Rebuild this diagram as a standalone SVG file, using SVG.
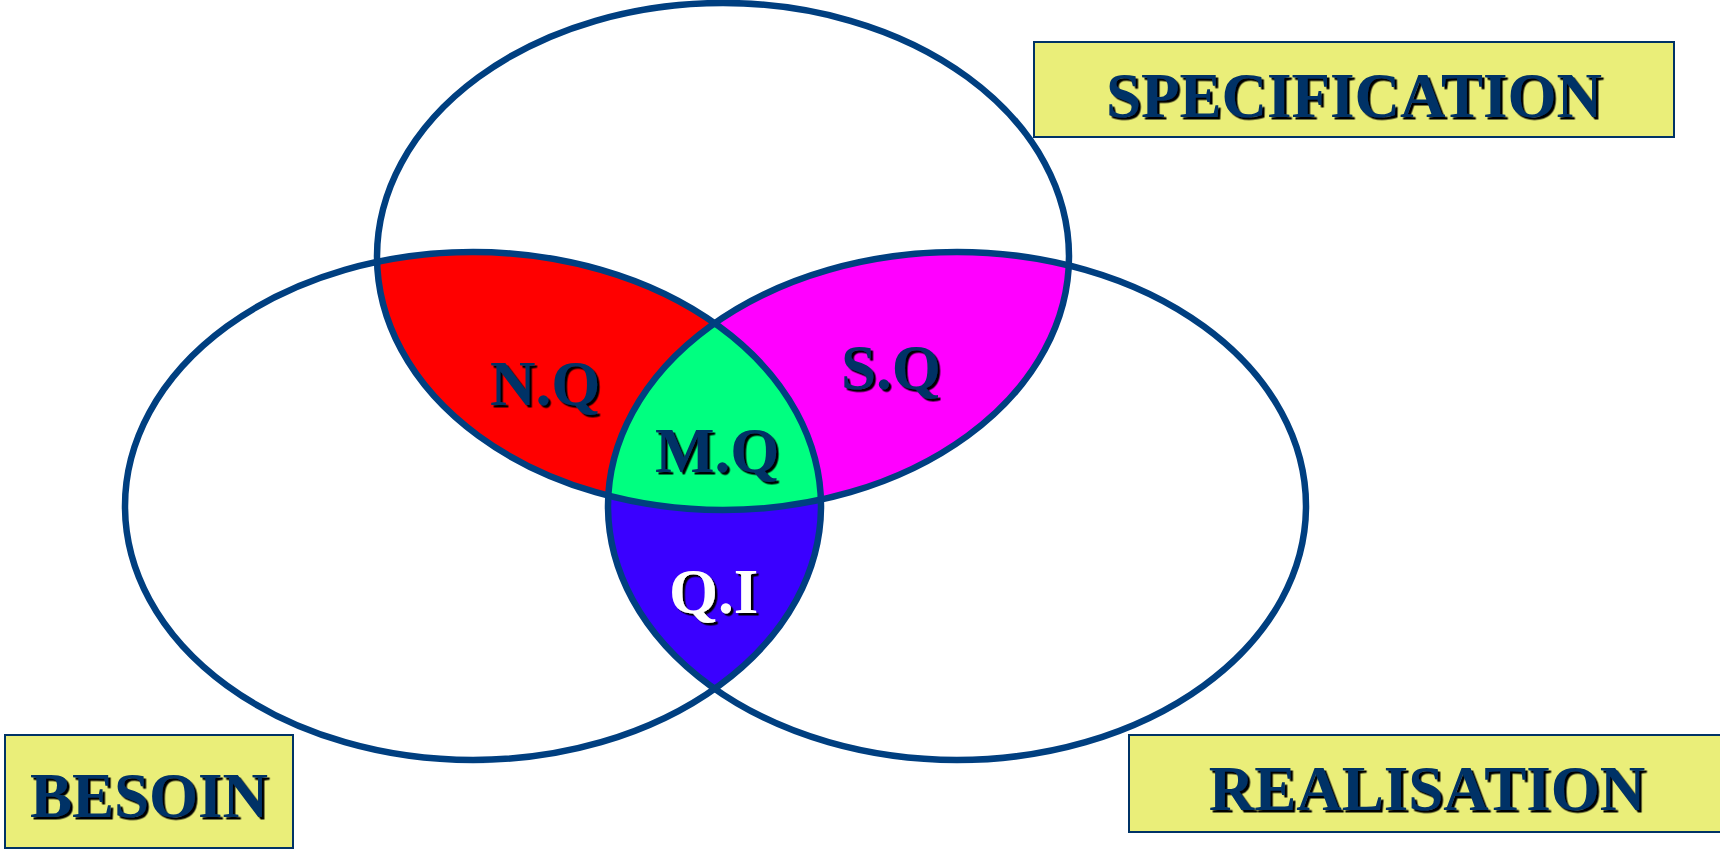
<svg xmlns="http://www.w3.org/2000/svg" width="1720" height="851" viewBox="0 0 1720 851">
  <style>
    .ring { fill: none; stroke: #003F80; stroke-width: 6.5; }
    .box { fill: #EAEE79; stroke: #003366; stroke-width: 2; }
    .lbl { font-family: "Liberation Serif", "Times New Roman", serif; font-weight: bold; font-size: 63px; fill: #003366; filter: url(#shadow); }
    .lbl-light { fill: #FFFFFF; }
  </style>
  <defs>
    <filter id="shadow" x="-10%" y="-20%" width="130%" height="150%">
      <feDropShadow dx="2.5" dy="2.5" stdDeviation="0.4" flood-color="#000000" flood-opacity="1"/>
    </filter>
    <ellipse id="e-top" cx="723" cy="256.5" rx="346" ry="253.5"/>
    <ellipse id="e-left" cx="473" cy="506" rx="348" ry="254"/>
    <ellipse id="e-right" cx="957" cy="506" rx="349" ry="254"/>
    <clipPath id="clip-top"><use href="#e-top"/></clipPath>
    <clipPath id="clip-left"><use href="#e-left"/></clipPath>
  </defs>

  <rect width="1720" height="851" fill="#FFFFFF"/>

  <!-- overlap zones of the three sets -->
  <g id="zone-qi">
    <use href="#e-right" fill="#3A00FF" clip-path="url(#clip-left)"/>
  </g>
  <g id="zone-nq">
    <use href="#e-left" fill="#FF0000" clip-path="url(#clip-top)"/>
  </g>
  <g id="zone-sq">
    <use href="#e-right" fill="#FF00FF" clip-path="url(#clip-top)"/>
  </g>
  <g id="zone-mq">
    <g clip-path="url(#clip-top)">
      <use href="#e-right" fill="#00FF80" clip-path="url(#clip-left)"/>
    </g>
  </g>

  <!-- set outlines -->
  <g id="set-specification"><use href="#e-top" class="ring"/></g>
  <g id="set-besoin"><use href="#e-left" class="ring"/></g>
  <g id="set-realisation"><use href="#e-right" class="ring"/></g>

  <!-- zone labels -->
  <g id="label-nq"><text class="lbl" x="490" y="405">N.Q</text></g>
  <g id="label-sq"><text class="lbl" x="841" y="389">S.Q</text></g>
  <g id="label-mq"><text class="lbl" x="655" y="472">M.Q</text></g>
  <g id="label-qi"><text class="lbl lbl-light" x="669" y="613">Q.I</text></g>

  <!-- set name boxes -->
  <g id="box-specification">
    <rect class="box" x="1034" y="42" width="640" height="95"/>
    <text class="lbl" x="1354" y="117" text-anchor="middle">SPECIFICATION</text>
  </g>
  <g id="box-besoin">
    <rect class="box" x="5" y="735" width="288" height="113"/>
    <text class="lbl" x="149" y="817" text-anchor="middle">BESOIN</text>
  </g>
  <g id="box-realisation">
    <rect class="box" x="1129" y="735" width="596" height="97"/>
    <text class="lbl" x="1427" y="810" text-anchor="middle">REALISATION</text>
  </g>
</svg>
